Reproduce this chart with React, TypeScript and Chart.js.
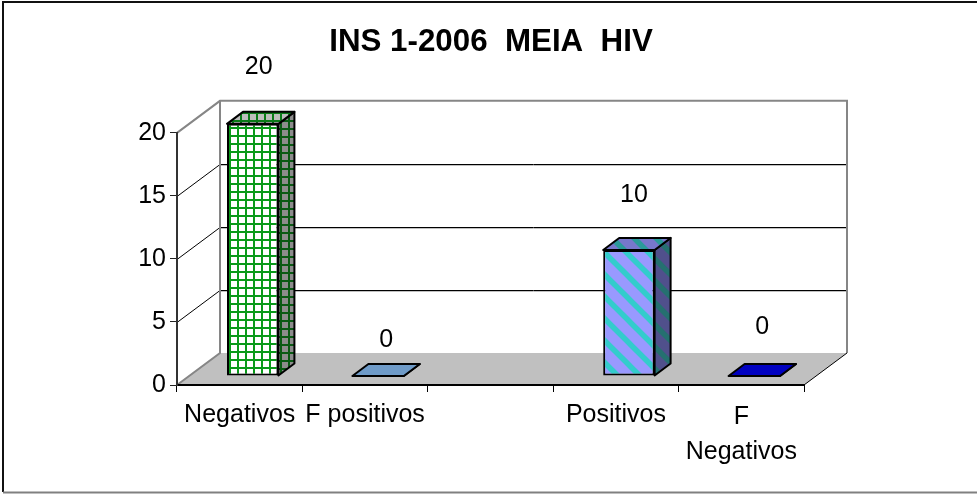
import React, { useEffect, useRef } from "react";
import { Chart, registerables } from "chart.js";

Chart.register(...registerables);

const categories: (string | string[])[] = ["Negativos", "F positivos", "", "Positivos", ["F", "Negativos"]];
const values: (number | null)[] = [20, 0, null, 10, 0];
const yTicks = [0, 5, 10, 15, 20];
const titleText = "INS 1-2006  MEIA  HIV";
const labelLift = [57, 36, 0, 55, 49];
const labelShift = [6, 8, 0, 5, 8];

const FONT = '"Liberation Sans", Arial, sans-serif';
const WALL = { dx: 43, dy: -32 };
const BAR_FRONT = { dx: 13, dy: -9 };
const BAR_DEPTH = { dx: 16, dy: -12 };

function gridPattern(bg: string, line: string) {
  const c = document.createElement("canvas");
  c.width = 8;
  c.height = 8;
  const g = c.getContext("2d")!;
  g.fillStyle = bg;
  g.fillRect(0, 0, 8, 8);
  g.fillStyle = line;
  g.fillRect(0, 0, 2, 8);
  g.fillRect(0, 0, 8, 2);
  return g.createPattern(c, "repeat")!;
}

function stripePattern(bg: string, line: string) {
  const s = 22;
  const c = document.createElement("canvas");
  c.width = s;
  c.height = s;
  const g = c.getContext("2d")!;
  g.fillStyle = bg;
  g.fillRect(0, 0, s, s);
  g.strokeStyle = line;
  g.lineWidth = 5.5;
  for (let i = -s; i <= s * 2; i += s) {
    g.beginPath();
    g.moveTo(i - 2, -2);
    g.lineTo(i + s + 2, s + 2);
    g.stroke();
  }
  return g.createPattern(c, "repeat")!;
}

const box3d = {
  id: "box3d",
  beforeDraw(chart: any) {
    const { ctx } = chart;
    const xs = chart.scales.x;
    const ys = chart.scales.y;
    const l = xs.left;
    const r = xs.right;
    const b = ys.getPixelForValue(0);
    const t = ys.getPixelForValue(20);
    const w = chart.width;
    const h = chart.height;
    ctx.save();
    ctx.strokeStyle = "#111";
    ctx.lineWidth = 2;
    ctx.beginPath();
    ctx.moveTo(w, 2);
    ctx.lineTo(3, 2);
    ctx.lineTo(3, h - 2);
    ctx.stroke();
    ctx.strokeStyle = "#808080";
    ctx.beginPath();
    ctx.moveTo(3, h - 1.5);
    ctx.lineTo(w, h - 1.5);
    ctx.stroke();

    ctx.fillStyle = "#c0c0c0";
    ctx.beginPath();
    ctx.moveTo(l, b);
    ctx.lineTo(l + WALL.dx, b + WALL.dy);
    ctx.lineTo(r + WALL.dx, b + WALL.dy);
    ctx.lineTo(r, b);
    ctx.closePath();
    ctx.fill();

    ctx.lineWidth = 1;
    for (const v of yTicks) {
      if (v === 0 || v === 20) continue;
      const y = Math.round(ys.getPixelForValue(v)) + 0.5;
      ctx.strokeStyle = "#000";
      ctx.beginPath();
      ctx.moveTo(l, y);
      ctx.lineTo(l + WALL.dx, y + WALL.dy);
      ctx.lineTo(r + WALL.dx, y + WALL.dy);
      ctx.stroke();
      ctx.strokeStyle = "#c0c0c0";
      ctx.beginPath();
      ctx.moveTo(l + WALL.dx, y + WALL.dy + 1);
      ctx.lineTo(r + WALL.dx, y + WALL.dy + 1);
      ctx.stroke();
    }

    ctx.strokeStyle = "#868686";
    ctx.lineWidth = 2;
    ctx.beginPath();
    ctx.moveTo(l, t);
    ctx.lineTo(l + WALL.dx, t + WALL.dy);
    ctx.lineTo(r + WALL.dx, t + WALL.dy);
    ctx.lineTo(r + WALL.dx, b + WALL.dy);
    ctx.moveTo(l + WALL.dx, t + WALL.dy);
    ctx.lineTo(l + WALL.dx, b + WALL.dy);
    ctx.lineTo(l, b);
    ctx.stroke();

    ctx.strokeStyle = "#000";
    ctx.lineWidth = 1;
    ctx.beginPath();
    ctx.moveTo(r, b);
    ctx.lineTo(r + WALL.dx, b + WALL.dy);
    ctx.stroke();
    ctx.restore();
  },
  beforeDatasetsDraw(chart: any) {
    const { ctx } = chart;
    const meta = chart.getDatasetMeta(0);
    const sides = chart.data.datasets[0].sideColors;
    const tops = chart.data.datasets[0].topColors;
    ctx.save();
    ctx.strokeStyle = "#000";
    ctx.lineWidth = 2;
    ctx.lineJoin = "round";
    meta.data.forEach((el: any, i: number) => {
      if (values[i] === null) return;
      const half = el.width / 2;
      const x0 = el.x - half + BAR_FRONT.dx;
      const x1 = el.x + half + BAR_FRONT.dx;
      const yt = el.y + BAR_FRONT.dy;
      const yb = el.base + BAR_FRONT.dy;
      ctx.fillStyle = sides[i];
      ctx.beginPath();
      ctx.moveTo(x1, yt);
      ctx.lineTo(x1 + BAR_DEPTH.dx, yt + BAR_DEPTH.dy);
      ctx.lineTo(x1 + BAR_DEPTH.dx, yb + BAR_DEPTH.dy);
      ctx.lineTo(x1, yb);
      ctx.closePath();
      ctx.fill();
      ctx.stroke();
      ctx.fillStyle = tops[i];
      ctx.beginPath();
      ctx.moveTo(x0, yt);
      ctx.lineTo(x0 + BAR_DEPTH.dx, yt + BAR_DEPTH.dy);
      ctx.lineTo(x1 + BAR_DEPTH.dx, yt + BAR_DEPTH.dy);
      ctx.lineTo(x1, yt);
      ctx.closePath();
      ctx.fill();
      ctx.stroke();
    });
    ctx.restore();
    ctx.save();
    ctx.translate(BAR_FRONT.dx, BAR_FRONT.dy);
  },
  afterDatasetsDraw(chart: any) {
    const { ctx } = chart;
    ctx.restore();
    const meta = chart.getDatasetMeta(0);
    ctx.save();
    ctx.fillStyle = "#000";
    ctx.font = `25px ${FONT}`;
    ctx.textAlign = "center";
    ctx.textBaseline = "middle";
    meta.data.forEach((el: any, i: number) => {
      if (values[i] === null) return;
      ctx.fillText(
        String(values[i]),
        el.x + BAR_FRONT.dx + labelShift[i],
        el.y + BAR_FRONT.dy - labelLift[i]
      );
    });
    ctx.restore();
  },
};

export default function App() {
  const ref = useRef<HTMLCanvasElement>(null);
  useEffect(() => {
    document.body.style.margin = "0";
    const fronts = [
      gridPattern("#ffffff", "#0a9a1a"),
      "#6f9bc8",
      "#ffffff",
      stripePattern("#9999ff", "#33cccc"),
      "#0000c0",
    ];
    const sideColors = [
      gridPattern("#8c8c8c", "#0a5a14"),
      "#4f6f90",
      "#ffffff",
      stripePattern("#50508c", "#257070"),
      "#000090",
    ];
    const topColors = [
      gridPattern("#bdbdbd", "#0a7a18"),
      "#6f9bc8",
      "#ffffff",
      stripePattern("#7777cc", "#2a9a9a"),
      "#0000c0",
    ];
    const chart = new Chart(ref.current!, {
      type: "bar",
      plugins: [box3d],
      data: {
        labels: categories,
        datasets: [
          {
            data: values,
            backgroundColor: fronts,
            sideColors,
            topColors,
            borderColor: "#000",
            borderWidth: 2,
            borderSkipped: false,
            categoryPercentage: 1,
            barPercentage: 0.41,
          } as any,
        ],
      },
      options: {
        animation: false,
        responsive: false,
        layout: { padding: { left: 5 } },
        plugins: {
          legend: { display: false },
          tooltip: { enabled: false },
          title: {
            display: true,
            text: titleText,
            color: "#000",
            font: { family: FONT, size: 31.3, weight: "bold" },
            padding: { top: 23.5, bottom: 71.8 },
          },
        },
        scales: {
          x: {
            type: "category",
            offset: true,
            afterFit: (s: any) => {
              s.height = 109;
            },
            grid: { offset: true, drawOnChartArea: false, tickLength: 7, tickColor: "#000", lineWidth: 1 },
            border: { color: "#000", width: 2 },
            ticks: {
              color: "#000",
              autoSkip: false,
              maxRotation: 0,
              padding: 8,
              font: (c: any) => ({
                family: FONT,
                size: 25,
                lineHeight: Array.isArray(categories[c.index]) ? 1.38 : 1.2,
              }),
            },
          },
          y: {
            position: "left",
            min: 0,
            max: 20,
            afterFit: (s: any) => {
              s.width = 172;
            },
            afterBuildTicks: (s: any) => {
              s.ticks = yTicks.map((value) => ({ value }));
            },
            grid: { drawOnChartArea: false, tickLength: 7, tickColor: "#222", lineWidth: 1 },
            border: { color: "#333", width: 2 },
            ticks: { color: "#000", padding: 4, font: { family: FONT, size: 25 } },
          },
          rightGutter: {
            position: "right",
            afterFit: (s: any) => {
              s.width = 173;
            },
            grid: { display: false },
            border: { display: false },
            ticks: { display: false },
          },
        },
      } as any,
    });
    return () => chart.destroy();
  }, []);
  return (
    <canvas
      ref={ref}
      width={977}
      height={494}
      style={{ display: "block", width: 977, height: 494, background: "#fff" }}
    />
  );
}
